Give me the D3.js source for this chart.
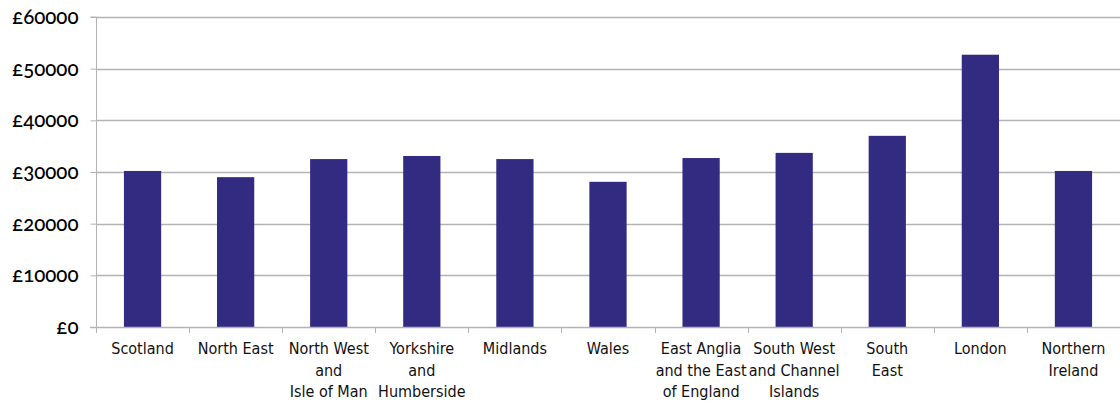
<!DOCTYPE html>
<html>
<head>
<meta charset="utf-8">
<script src="https://cdn.jsdelivr.net/npm/d3@7"></script>
<style>
  body { margin: 0; background: #fff; }
  .ylab { font-family: Lato, "Open Sans", sans-serif; font-size: 20.5px; font-weight: 500; font-variant-numeric: oldstyle-nums; font-feature-settings: "onum" 1; fill: #000; }
  .xlab { font-family: "Liberation Sans Narrow", "DejaVu Sans Condensed", Roboto, sans-serif; font-size: 16px; fill: #111; }
</style>
</head>
<body>
<script>
// regions (multi-line labels split on "|")
const regions = [
    "Scotland", "North East", "North West|and|Isle of Man", "Yorkshire|and|Humberside",
    "Midlands", "Wales", "East Anglia|and the East|of England", "South West|and Channel|Islands",
    "South|East", "London", "Northern|Ireland"
];
const salaries = [30200, 29000, 32500, 33100, 32500, 28100, 32700, 33700, 37000, 52700, 30200];
const yTicks = [0, 10000, 20000, 30000, 40000, 50000, 60000];

const width = 1120, height = 405;
const margin = {top: 17, right: 0, bottom: 78, left: 96};

const svg = d3.select("body").append("svg")
    .attr("width", width)
    .attr("height", height);

const x = d3.scaleBand()
    .domain(regions)
    .range([margin.left, width - margin.right])
    .paddingInner(0.6)
    .paddingOuter(0.3);

const y = d3.scaleLinear()
    .domain([0, 60000])
    .range([height - margin.bottom, margin.top]);

// gridlines
svg.append("g")
    .selectAll("line")
    .data(yTicks.slice(1))
  .enter().append("line")
    .attr("x1", margin.left)
    .attr("x2", width)
    .attr("y1", d => Math.round(y(d)) + 0.5)
    .attr("y2", d => Math.round(y(d)) + 0.5)
    .attr("stroke", "#b3b3b6")
    .attr("stroke-width", 1.3);

// bars
svg.append("g")
    .selectAll("rect")
    .data(salaries)
  .enter().append("rect")
    .attr("x", (d, i) => x(regions[i]))
    .attr("width", x.bandwidth())
    .attr("y", d => y(d))
    .attr("height", d => y(0) - y(d))
    .attr("fill", "#332a82");

// y axis
const yAxis = svg.append("g")
    .attr("transform", `translate(${margin.left + 0.5},0)`)
    .call(d3.axisLeft(y).tickValues(yTicks).tickSize(6).tickPadding(12).tickFormat(d => "£" + d));
yAxis.select(".domain").attr("stroke", "#b3b3b6").attr("d", `M-6,${y(60000)}H0V${y(0)}`);
yAxis.selectAll(".tick line").attr("stroke", "#b3b3b6");
yAxis.selectAll(".tick text").attr("class", "ylab").attr("font-family", null).attr("font-size", null);

// x axis line + boundary ticks
const xAxis = svg.append("g");
xAxis.append("line")
    .attr("x1", margin.left - 6)
    .attr("x2", width)
    .attr("y1", Math.round(y(0)) + 0.5)
    .attr("y2", Math.round(y(0)) + 0.5)
    .attr("stroke", "#b3b3b6")
    .attr("stroke-width", 1.3);

const step = x.step();
const bounds = d3.range(regions.length + 1).map(i => margin.left + i * step);
xAxis.selectAll(".bt")
    .data(bounds)
  .enter().append("line")
    .attr("x1", d => Math.round(d) + 0.5)
    .attr("x2", d => Math.round(d) + 0.5)
    .attr("y1", y(0))
    .attr("y2", y(0) + 6)
    .attr("stroke", "#b3b3b6");

// category labels
const labels = xAxis.selectAll(".xlab")
    .data(regions)
  .enter().append("text")
    .attr("class", "xlab")
    .attr("text-anchor", "middle")
    .attr("x", d => x(d) + x.bandwidth() / 2)
    .attr("y", y(0) + 27);

labels.selectAll("tspan")
    .data(d => d.split("|"))
  .enter().append("tspan")
    .attr("x", function() { return d3.select(this.parentNode).attr("x"); })
    .attr("dy", (d, i) => i === 0 ? 0 : 21.5)
    .text(d => d);
</script>
</body>
</html>
